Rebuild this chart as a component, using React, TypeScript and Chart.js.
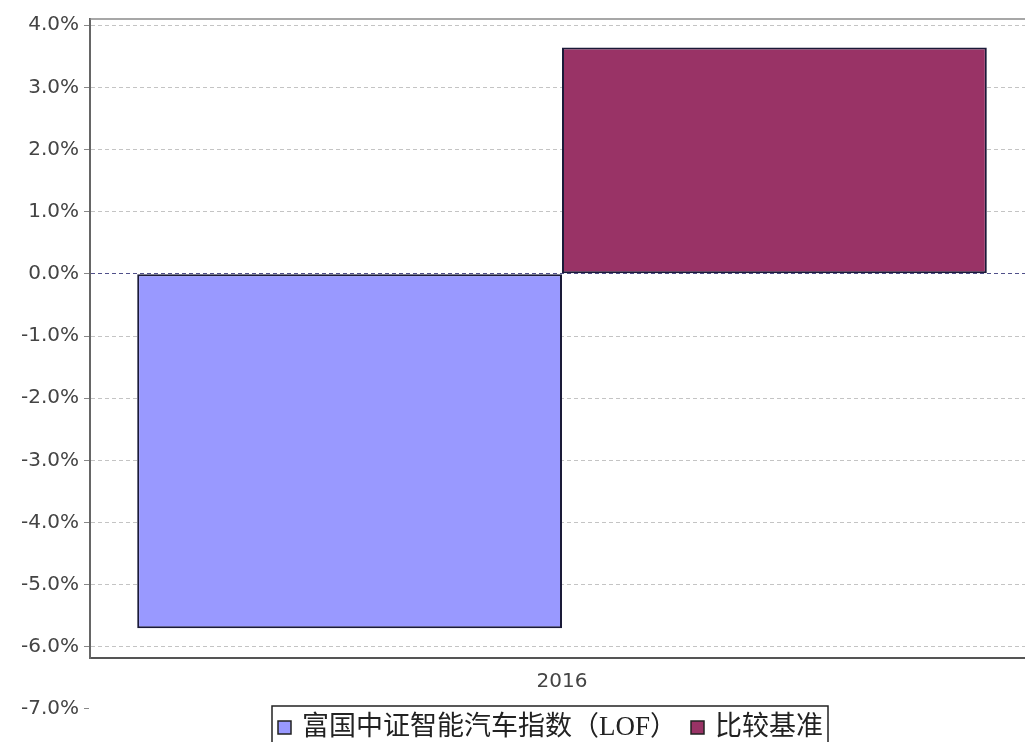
import React, { useEffect, useRef } from "react";
import { Chart, registerables } from "chart.js";

Chart.register(...registerables);

const categories = ["2016"];
const fundValues = [-5.7];
const benchValues = [3.64];
const seriesNames = ["富国中证智能汽车指数（LOF）", "比较基准"];
const seriesColors = ["#9999FF", "#993366"];
const yTicks = [-7, -6, -5, -4, -3, -2, -1, 0, 1, 2, 3, 4];
const yMin = -6.18;
const yMax = 4.1;

const W = 1034;
const H = 742;

const framePlugin = {
  id: "frame",
  afterDraw(chart: any) {
    const { ctx, chartArea } = chart;
    ctx.save();
    // top frame line
    ctx.strokeStyle = "#8a8a8a";
    ctx.lineWidth = 1.5;
    ctx.beginPath();
    ctx.moveTo(chartArea.left, chartArea.top);
    ctx.lineTo(chartArea.right, chartArea.top);
    ctx.stroke();

    // legend
    const left = 272;
    const top = 706;
    const right = 828;
    ctx.strokeStyle = "#222";
    ctx.lineWidth = 1.5;
    ctx.strokeRect(left, top, right - left, 60);
    ctx.font = "27px 'Liberation Serif', 'Noto Sans CJK SC'";
    ctx.textBaseline = "middle";
    ctx.textAlign = "left";
    let x = left + 6;
    const cy = 728;
    seriesNames.forEach((name, i) => {
      ctx.fillStyle = seriesColors[i];
      ctx.fillRect(x, cy - 7, 13, 13);
      ctx.strokeStyle = "#222";
      ctx.lineWidth = 1.5;
      ctx.strokeRect(x, cy - 7, 13, 13);
      x += 24;
      ctx.fillStyle = "#222";
      ctx.fillText(name, x, cy);
      x += ctx.measureText(name).width + 14;
    });
    ctx.restore();
  },
};

export default function App() {
  const ref = useRef<HTMLCanvasElement | null>(null);
  useEffect(() => {
    if (!ref.current) return;
    const chart = new Chart(ref.current, {
      type: "bar",
      data: {
        labels: categories,
        datasets: [
          {
            label: seriesNames[0],
            data: fundValues,
            backgroundColor: seriesColors[0],
            borderColor: "#1a1a38",
            borderWidth: 2,
            borderSkipped: false,
          },
          {
            label: seriesNames[1],
            data: benchValues,
            backgroundColor: seriesColors[1],
            borderColor: "#1a1a38",
            borderWidth: 2,
            borderSkipped: false,
          },
        ],
      },
      options: {
        responsive: false,
        animation: false,
        devicePixelRatio: 1,
        layout: { padding: { top: 19, bottom: 36, left: 0, right: 0 } },
        categoryPercentage: 0.9,
        barPercentage: 1.0,
        plugins: {
          legend: { display: false },
          tooltip: { enabled: false },
        },
        scales: {
          x: {
            grid: { display: false, drawTicks: false },
            border: { display: true, color: "#555", width: 2 },
            ticks: {
              color: "#444",
              font: { family: "'DejaVu Sans'", size: 20 },
              padding: 12,
            },
          },
          y: {
            min: yMin,
            max: yMax,
            afterBuildTicks: (scale: any) => {
              scale.ticks = yTicks.map((v) => ({ value: v }));
            },
            afterFit: (scale: any) => {
              scale.width = 90;
            },
            grid: {
              color: (c: any) =>
                c.tick && c.tick.value === 0
                  ? "#50508a"
                  : c.tick && c.tick.value === -7
                  ? "rgba(0,0,0,0)"
                  : "#c4c4c4",
              lineWidth: 1,
              drawTicks: true,
              tickLength: 6,
              tickColor: "#888",
              tickBorderDash: [],
            },
            border: { display: true, color: "#666", width: 2, dash: [4, 3] },
            ticks: {
              color: "#444",
              font: { family: "'DejaVu Sans'", size: 20 },
              padding: 5,
              callback: (v: any) => Number(v).toFixed(1) + "%",
            },
          },
        },
      },
      plugins: [framePlugin],
    } as any);
    return () => chart.destroy();
  }, []);
  return (
    <div
      style={{
        position: "absolute",
        left: 0,
        top: 0,
        width: 1025,
        height: 742,
        overflow: "hidden",
        background: "#fff",
      }}
    >
      <canvas ref={ref} width={W} height={H} style={{ width: W, height: H, display: "block" }} />
    </div>
  );
}
